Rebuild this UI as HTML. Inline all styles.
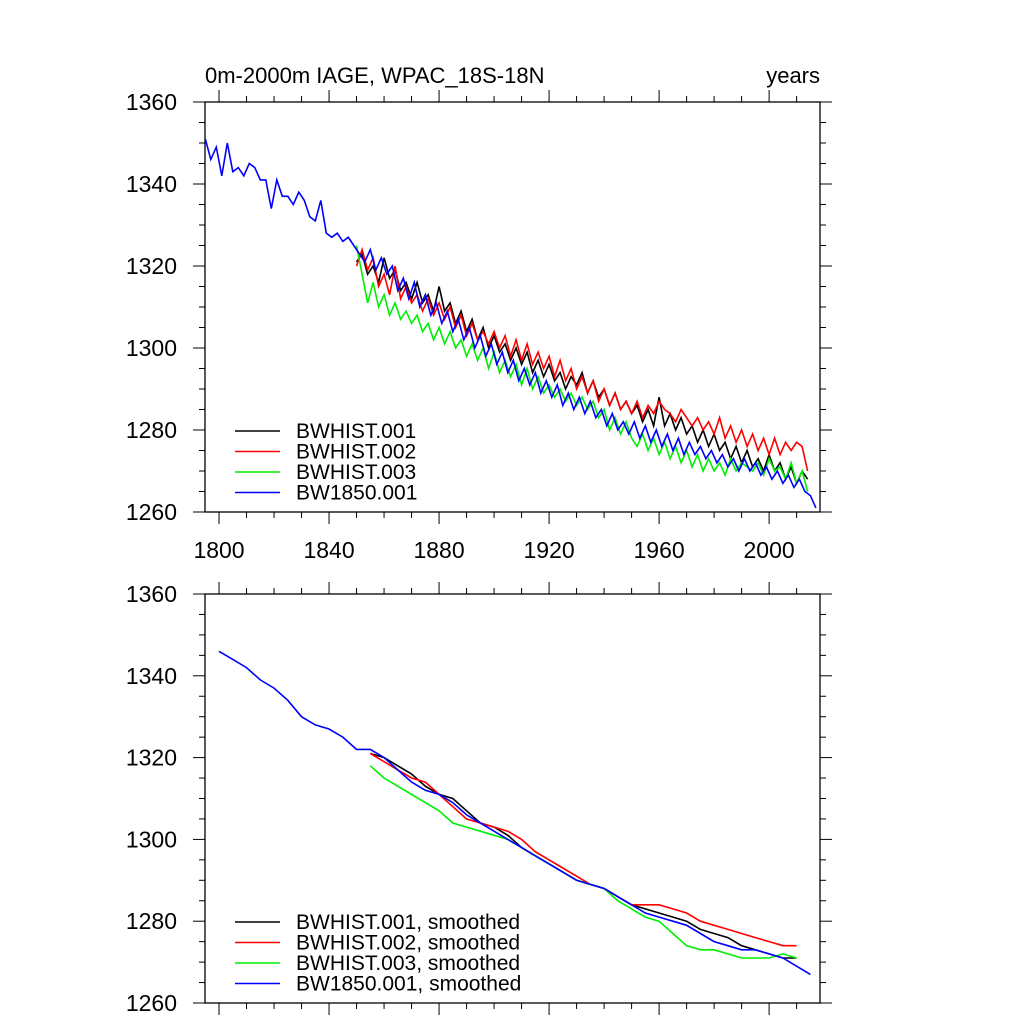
<!DOCTYPE html>
<html><head><meta charset="utf-8"><style>
body{margin:0;background:#fff}
svg text{font-family:"Liberation Sans",sans-serif;fill:#000}
</style></head><body>
<svg id="c" width="1024" height="1024" xmlns="http://www.w3.org/2000/svg">
<text x="205" y="83" font-size="22">0m-2000m IAGE, WPAC_18S-18N</text>
<text x="820" y="83" font-size="22" text-anchor="end">years</text>
</svg>
<script>
const yTicks=[1260,1280,1300,1320,1340,1360];
const xTicks=[1800,1840,1880,1920,1960,2000];
const names=["BWHIST.001","BWHIST.002","BWHIST.003","BW1850.001"];
const colors=["#000","#f00","#0e0","#00f"];
const histStart=1850, blueStart=1795, rawStep=2;
const black=[1321,1323,1318,1320,1316,1322,1317,1319,1314,1316,1312,1316,1311,1313,1309,1315,1309,1311,1306,1309,1304,1307,1302,1305,1300,1303,1299,1301,1297,1300,1296,1299,1294,1297,1293,1296,1292,1294,1290,1293,1291,1294,1289,1292,1288,1290,1286,1289,1285,1287,1284,1286,1282,1285,1281,1288,1281,1284,1280,1283,1279,1281,1277,1280,1276,1279,1275,1277,1273,1276,1272,1275,1271,1273,1270,1274,1270,1272,1268,1271,1267,1270,1268];
const red=[1320,1324,1319,1322,1315,1318,1313,1320,1312,1315,1311,1313,1309,1312,1308,1311,1307,1310,1305,1308,1303,1306,1302,1304,1301,1304,1300,1303,1298,1302,1297,1301,1296,1299,1295,1298,1293,1297,1292,1295,1290,1293,1289,1292,1287,1290,1286,1289,1285,1287,1284,1287,1283,1286,1284,1287,1285,1284,1282,1285,1283,1281,1283,1280,1282,1279,1283,1278,1281,1277,1280,1276,1279,1275,1278,1274,1278,1274,1277,1275,1277,1276,1270];
const green=[1325,1318,1311,1316,1310,1313,1308,1311,1307,1309,1306,1308,1304,1306,1302,1305,1301,1304,1300,1302,1298,1301,1297,1300,1295,1299,1294,1297,1293,1296,1291,1295,1290,1293,1289,1291,1288,1290,1287,1289,1286,1288,1285,1287,1283,1285,1280,1283,1279,1282,1278,1276,1279,1275,1278,1274,1277,1273,1276,1272,1275,1271,1274,1270,1273,1270,1272,1269,1273,1270,1272,1271,1270,1272,1269,1273,1270,1271,1268,1272,1267,1270,1265];
const blue=[1351,1346,1349,1342,1350,1343,1344,1342,1345,1344,1341,1341,1334,1341,1337,1337,1335,1338,1336,1332,1331,1336,1328,1327,1328,1326,1327,1325,
1323,1321,1324,1319,1322,1318,1320,1314,1317,1312,1316,1310,1313,1308,1311,1306,1309,1304,1307,1302,1305,1300,1303,1298,1301,1296,1299,1294,1297,1292,1295,1291,1294,1289,1292,1288,1291,1286,1289,1285,1288,1284,1287,1283,1285,1281,1284,1280,1282,1279,1282,1278,1281,1277,1280,1276,1279,1275,1278,1274,1277,1274,1276,1273,1275,1272,1274,1271,1273,1270,1273,1270,1272,1269,1271,1268,1270,1267,1269,1266,1268,1265,1264,1261];
const smStep=5;
const blackSm=[1321,1320,1318,1316,1313,1311,1310,1307,1304,1303,1301,1298,1296,1294,1292,1290,1289,1288,1286,1284,1283,1282,1281,1280,1278,1277,1276,1274,1273,1272,1271,1271];
const redSm=[1321,1319,1317,1315,1314,1311,1308,1305,1304,1303,1302,1300,1297,1295,1293,1291,1289,1288,1286,1284,1284,1284,1283,1282,1280,1279,1278,1277,1276,1275,1274,1274];
const greenSm=[1318,1315,1313,1311,1309,1307,1304,1303,1302,1301,1300,1298,1296,1294,1292,1290,1289,1288,1285,1283,1281,1280,1277,1274,1273,1273,1272,1271,1271,1271,1272,1271];
const blueSm=[1346,1344,1342,1339,1337,1334,1330,1328,1327,1325,1322,1322,1320,1317,1314,1312,1311,1309,1306,1304,1302,1300,1298,1296,1294,1292,1290,1289,1288,1286,1284,1282,1281,1280,1279,1277,1275,1274,1273,1273,1272,1271,1269,1267];
const smStarts=[1855,1855,1855,1800];

const svg=document.getElementById('c');const NS="http://www.w3.org/2000/svg";
function mk(t,a,p){const e=document.createElementNS(NS,t);for(const k in a)e.setAttribute(k,a[k]);(p||svg).appendChild(e);return e;}
const X0=205,X1=820,xmin=1794.9,xmax=2018.5;
const xs=v=>X0+(v-xmin)/(xmax-xmin)*(X1-X0);
function panel(top,bot,series,starts,step,labels,xlab,pname){
  const ys=v=>bot-(v-1260)/100*(bot-top);
  const g=mk('g',{});
  
  
  mk('rect',{x:X0,y:top,width:X1-X0,height:bot-top,fill:'none',stroke:'#000','stroke-width':1.3},g);
  for(let v=1260;v<=1360;v+=5){const L=v%20==0?12:6;const y=ys(v);
    mk('line',{x1:X0-L,x2:X0,y1:y,y2:y,stroke:'#000'},g);mk('line',{x1:X1,x2:X1+L,y1:y,y2:y,stroke:'#000'},g);}
  yTicks.forEach(v=>{const t=mk('text',{x:177,y:ys(v)+8,'font-size':23,'text-anchor':'end'},g);t.textContent=v;
    });
  for(let v=1800;v<=2010;v+=10){const L=(v-1800)%40==0?12:6;const x=xs(v);
    mk('line',{x1:x,x2:x,y1:bot,y2:bot+L,stroke:'#000'},g);mk('line',{x1:x,x2:x,y1:top-L,y2:top,stroke:'#000'},g);}
  if(xlab)xTicks.forEach(v=>{const t=mk('text',{x:xs(v),y:bot+46,'font-size':23,'text-anchor':'middle'},g);t.textContent=v;
    });
  series.forEach((d,i)=>{const pts=d.map((v,j)=>xs(starts[i]+j*step).toFixed(1)+','+ys(v).toFixed(1)).join(' ');
    const p=mk('polyline',{points:pts,fill:'none',stroke:colors[i],'stroke-width':1.6},g);
    });
  labels.forEach((l,i)=>{const y=bot-81+i*20.5;
    const ln=mk('line',{x1:235,x2:280,y1:y,y2:y,stroke:colors[i],'stroke-width':1.6},g);
    
    const t=mk('text',{x:296,y:y+7,'font-size':21},g);t.textContent=l;
    });
}
panel(102,512,[black,red,green,blue],[histStart,histStart,histStart,blueStart],rawStep,names,true,'raw-panel');
panel(594,1003,[blackSm,redSm,greenSm,blueSm],smStarts,smStep,names.map(n=>n+', smoothed'),false,'smoothed-panel');
</script>
</body></html>
